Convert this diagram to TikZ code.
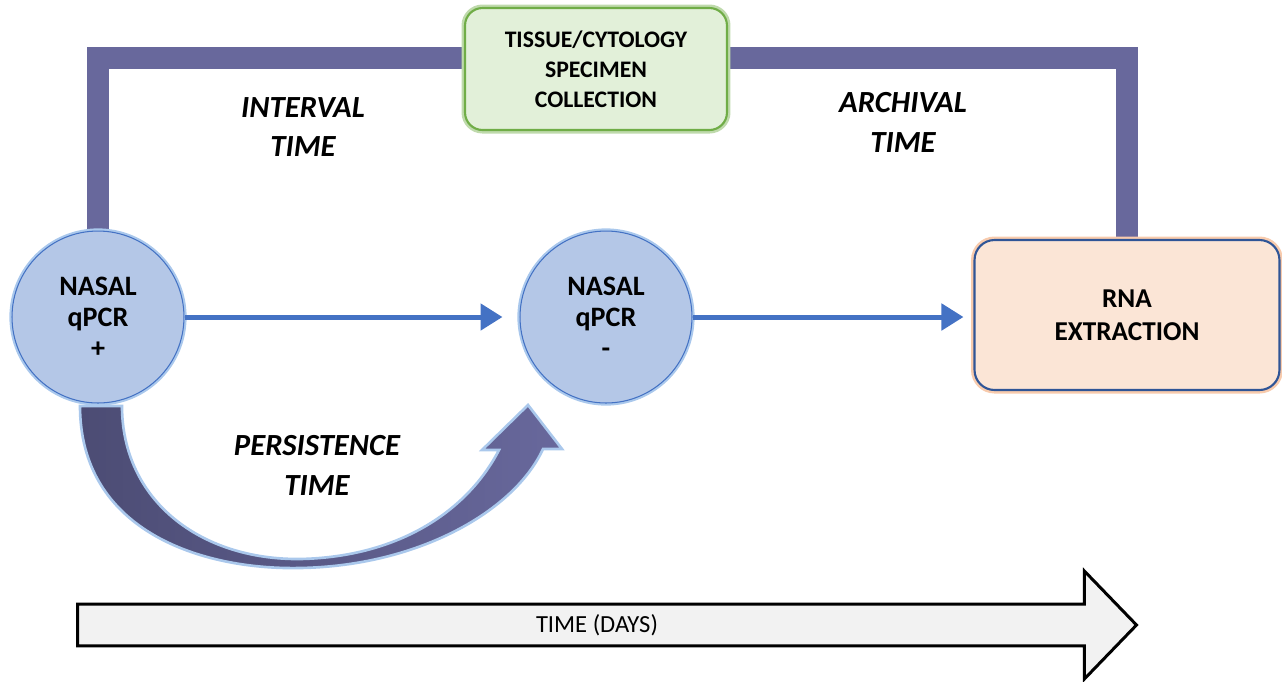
\documentclass[tikz,border=0pt]{standalone}
\usepackage{fontspec}
\setmainfont{Carlito}
\usetikzlibrary{shapes.arrows,arrows.meta,backgrounds}

\definecolor{bandpurple}{RGB}{104,104,156}
\definecolor{bandpurpledark}{RGB}{76,76,116}
\definecolor{nodeblue}{RGB}{180,199,231}
\definecolor{edgeblue}{RGB}{68,114,196}
\definecolor{glowblue}{RGB}{170,200,236}
\definecolor{peach}{RGB}{251,229,214}
\definecolor{glowpeach}{RGB}{248,203,173}
\definecolor{darkblue}{RGB}{47,85,151}
\definecolor{mint}{RGB}{226,240,217}
\definecolor{leaf}{RGB}{112,173,71}
\definecolor{axisgrey}{RGB}{242,242,242}

\begin{document}
\begin{tikzpicture}[
    x=0.02cm, y=-0.02cm,
    qpcr/.style={circle, minimum size=3.44cm, inner sep=0pt, fill=nodeblue,
      draw=edgeblue, line width=0.6pt,
      preaction={draw=glowblue, line width=3pt},
      font=\bfseries\fontsize{16}{17.6}\selectfont, align=center},
    stagebox/.style={rectangle, rounded corners=0.4cm, align=center,
      font=\bfseries\fontsize{15.5}{18.7}\selectfont},
    timelabel/.style={font=\bfseries\itshape\fontsize{17.5}{22.7}\selectfont, align=center},
    flowarrow/.style={draw=edgeblue, line width=0.1cm,
      -{Triangle[length=0.44cm,width=0.52cm]}},
    band/.style={draw=bandpurple, line width=0.44cm, line join=miter},
  ]
  \useasboundingbox (0,0) rectangle (1282,681);

  % sampling points and lab steps
  \node[qpcr] (posA) at (98,317) {NASAL\\qPCR\\+};
  \node[qpcr] (negB) at (606,317) {NASAL\\qPCR\\-};
  \node[stagebox, minimum width=6.1cm, minimum height=3cm, fill=peach,
        draw=darkblue, line width=1.2pt,
        preaction={draw=glowpeach, line width=4pt}] (rna) at (1127,315) {RNA\\EXTRACTION};
  \node[stagebox, rounded corners=0.35cm, minimum width=5.24cm, minimum height=2.44cm,
        fill=mint, draw=leaf, line width=1.2pt,
        preaction={draw=leaf!45, line width=4pt},
        font=\bfseries\fontsize{13.5}{17}\selectfont] (tissue) at (596,69)
        {TISSUE/CYTOLOGY\\SPECIMEN\\COLLECTION};

  % frame from the positive swab over the specimen to the extraction
  \coordinate (topline) at (600,58);
  \begin{scope}[on background layer]
    \draw[band] (posA.north) |- (topline) -| (rna.north);
  \end{scope}

  \draw[flowarrow, shorten >=0.34cm] (posA.east) -- (negB.west);
  \draw[flowarrow, shorten >=0.2cm] (negB.east) -- (negB.east -| rna.west);

  % curved persistence arrow
  \fill[left color=bandpurpledark, right color=bandpurple, draw=glowblue, line width=1.5pt]
    (80,406) .. controls (80,530) and (200,570) .. (300,568)
    .. controls (420,566) and (515,510) .. (543,449)
    -- (562,449) -- (528,405) -- (482,450) -- (499,450)
    .. controls (468,510) and (400,557) .. (300,559)
    .. controls (200,560) and (122,500) .. (122,406) -- cycle;

  \node[timelabel] (intervallbl) at (303,127) {INTERVAL\\TIME};
  \node[timelabel] (archivallbl) at (903,122) {ARCHIVAL\\TIME};
  \node[timelabel] (persistlbl) at (317,465) {PERSISTENCE\\TIME};

  % time axis
  \node[single arrow, draw=black, line width=1.7pt, fill=axisgrey,
        minimum width=2.16cm, minimum height=21.18cm,
        single arrow head extend=0.57cm, single arrow tip angle=92,
        font=\fontsize{14}{16}\selectfont] (timeaxis) at (597,625) {TIME (DAYS)};
\end{tikzpicture}
\end{document}
